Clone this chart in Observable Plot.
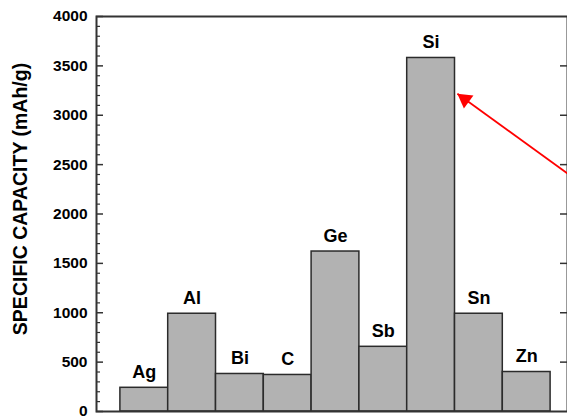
<!DOCTYPE html>
<html>
<head>
<meta charset="utf-8">
<script src="https://cdn.jsdelivr.net/npm/d3@7"></script>
<script src="https://cdn.jsdelivr.net/npm/@observablehq/plot@0.6"></script>
<style>
  html, body { margin: 0; padding: 0; background: #fff; }
  #chart svg { display: block; overflow: hidden; }
</style>
</head>
<body>
<div id="chart"></div>
<script>
// ---- data ----
const elements = ["Ag", "Al", "Bi", "C", "Ge", "Sb", "Si", "Sn", "Zn"];
const capacity = [240, 990, 380, 370, 1620, 655, 3580, 990, 400];
const majorTicks = [0, 500, 1000, 1500, 2000, 2500, 3000, 3500, 4000];
const minorTicks = d3.range(0, 4001, 100).filter(v => v % 500 !== 0);
const yTitle = "SPECIFIC CAPACITY (mAh/g)";
// arrow (off-chart annotation pointing at the Si bar)
const arrowTail = {x: 10.6, y: 2150};
const arrowTip = {x: 7.55, y: 3217};

const rows = elements.map((e, i) => ({name: e, pos: i + 1, value: capacity[i]}));

const font = "'Liberation Sans', Arial, Helvetica, sans-serif";
const W = 567, H = 416;

const chart = Plot.plot({
  width: W,
  height: H,
  marginLeft: 96,
  marginTop: 16,
  marginBottom: 5,
  marginRight: 0,
  style: {fontFamily: font, background: "#fff", color: "#000", overflow: "hidden"},
  x: {domain: [0, 10], range: [96, 574], axis: null},
  y: {domain: [0, 4000], range: [411, 16], axis: null},
  marks: [
    Plot.rectY(rows, {
      x1: d => d.pos - 0.5, x2: d => d.pos + 0.5, y1: 0, y2: "value",
      fill: "#b2b2b2", stroke: "#2b2b2b", strokeWidth: 1.5
    }),
    Plot.text(rows, {
      x: "pos", y: "value", text: "name",
      dy: -10, lineAnchor: "bottom",
      fontSize: 18, fontWeight: "bold", fill: "#000"
    }),
    // left axis: labels
    Plot.axisY({anchor: "left", ticks: majorTicks, tickSize: 0, tickPadding: 9,
      tickFormat: d => String(d),
      fontSize: 15.5, fontWeight: "bold", label: null, fill: "#000"}),
    // left axis: inward ticks
    Plot.axisY({anchor: "left", ticks: majorTicks, tickSize: -7, tickFormat: () => "",
      label: null, stroke: "#333", strokeWidth: 1.5}),
    Plot.axisY({anchor: "left", ticks: minorTicks, tickSize: -4, tickFormat: () => "",
      label: null, stroke: "#333", strokeWidth: 1.2}),
    // right axis: inward ticks (frame edge lies just off canvas)
    Plot.axisY({anchor: "right", ticks: majorTicks.slice(1, -1), tickSize: -8, tickFormat: () => "",
      label: null, stroke: "#333", strokeWidth: 1.5}),
    Plot.frame({stroke: "#333", strokeWidth: 2}),
    // y title
    Plot.text([yTitle], {
      frameAnchor: "left", text: d => d, rotate: -90, textAnchor: "middle",
      dx: -76, dy: -15, fontSize: 19.5, fontWeight: "bold", fill: "#000"
    }),
    // red arrow
    Plot.link([{x1: arrowTail.x, y1: arrowTail.y, x2: arrowTip.x, y2: arrowTip.y}], {
      x1: "x1", y1: "y1", x2: "x2", y2: "y2", stroke: "#ff0000", strokeWidth: 1.8
    }),
    Plot.dot([arrowTip], {
      x: "x", y: "y", symbol: "triangle", r: 6, rotate: -54,
      dx: 7.5, dy: 5.4, fill: "#ff0000", stroke: "none"
    })
  ]
});

document.getElementById("chart").appendChild(chart);
</script>
</body>
</html>
